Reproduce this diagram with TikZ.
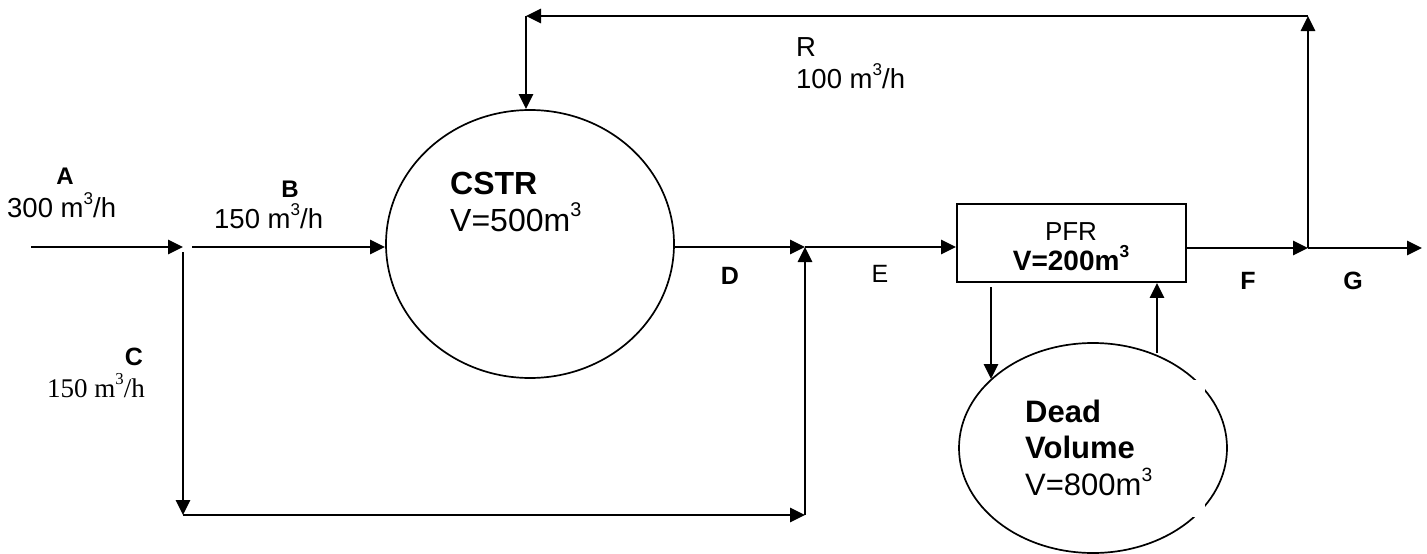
\documentclass[tikz,border=0pt]{standalone}
\usepackage{fontspec}
\usepackage{graphicx}
\setmainfont{Liberation Sans}
\newfontfamily\timesf{Liberation Serif}
\usetikzlibrary{arrows.meta,shapes.geometric}
\newcommand{\cubed}{\raisebox{0.45em}{\scalebox{0.62}{3}}}
\begin{document}
\begin{tikzpicture}[x=1pt,y=-1pt,
  flow/.style={line width=2.8pt,-{Triangle[length=15pt,width=14pt]}},
  vessel/.style={draw,line width=1.7pt,ellipse,inner sep=0pt},
  lbl/.style={font=\fontsize{27.5}{30}\selectfont,inner sep=0pt,anchor=base west},
  tag/.style={font=\fontsize{25}{28}\selectfont\bfseries,inner sep=0pt,anchor=base},
  big/.style={font=\fontsize{32}{36}\selectfont,inner sep=0pt,anchor=base west},
  dvtxt/.style={font=\fontsize{31}{36}\selectfont,inner sep=0pt,anchor=base west}]
\useasboundingbox (0,0) rectangle (1427,554);
% vessels
\node[vessel,minimum width=288pt,minimum height=268pt] (cstr) at (530,244) {};
\node[draw,line width=1.7pt,minimum width=229pt,minimum height=78pt,inner sep=0pt] (pfr) at (1071.5,243) {};
\node[vessel,minimum width=268pt,minimum height=210pt] (dv) at (1093,448) {};
\fill[white] (1010,380) rectangle (1205,517);
% coordinates
\coordinate (a0) at (31,247);
\coordinate (s1) at (183,247);
\coordinate (b0) at (192,247);
\coordinate (c0) at (183,252);
\coordinate (c1) at (183,515);
\coordinate (m0) at (805,515);
\coordinate (mix) at (805,247);
\coordinate (s2) at (1308,248);
\coordinate (g1) at (1422,248);
\coordinate (r0) at (1308,16);
\coordinate (r1) at (526,16);
\coordinate (p1) at (991,287);
\coordinate (p2) at (991,379);
\coordinate (q1) at (1157,353);
% connectors
\draw[flow] (a0) -- (s1);
\draw[flow] (b0) -- (b0 -| cstr.west);
\draw[flow] (c0) -- (c1);
\draw[flow] (c1) -- (m0);
\draw[flow] (m0) -- (mix);
\draw[flow] (cstr.east |- mix) -- (mix);
\draw[flow] (mix) -- (mix -| pfr.west);
\draw[flow] (pfr.east |- s2) -- (s2);
\draw[flow] (s2) -- (g1);
\draw[flow] (s2) -- (r0);
\draw[flow] (r0) -- (r1);
\draw[flow] (r1) -- (r1 |- cstr.north);
\draw[flow] (p1) -- (p2);
\draw[flow] (q1) -- (q1 |- pfr.south);
% labels
\node[tag,font=\fontsize{24}{28}\selectfont\bfseries] (tA) at (65,184) {A};
\node[lbl] (fA) at (7,217) {300 m\cubed/h};
\node[tag,font=\fontsize{24}{28}\selectfont\bfseries] (tB) at (290,197) {B};
\node[lbl] (fB) at (214,228) {150 m\cubed/h};
\node[tag] (tC) at (134,365) {C};
\node[lbl,font=\fontsize{27}{30}\selectfont\timesf] (fC) at (47,397) {150 m\cubed/h};
\node[big,font=\fontsize{32}{36}\selectfont\bfseries] (tcstr) at (450,194) {CSTR};
\node[big] (vcstr) at (450,231) {V=500m\cubed};
\node[tag] (tD) at (730,284) {D};
\node[tag,font=\fontsize{25}{28}\selectfont] (tE) at (880,282) {E};
\node[tag,font=\fontsize{26}{28}\selectfont] (tpfr) at (1071,240) {PFR};
\node[tag,font=\fontsize{28}{30}\selectfont\bfseries] (vpfr) at (1071,270) {V=200m\cubed};
\node[tag] (tF) at (1248,289) {F};
\node[tag] (tG) at (1353,289) {G};
\node[lbl] (tR) at (796,56) {R};
\node[lbl] (fR) at (796,88) {100 m\cubed/h};
\node[dvtxt,font=\fontsize{31}{36}\selectfont\bfseries] (tdv1) at (1025,422) {Dead};
\node[dvtxt,font=\fontsize{31}{36}\selectfont\bfseries] (tdv2) at (1025,458) {Volume};
\node[dvtxt] (vdv) at (1025,495) {V=800m\cubed};
\end{tikzpicture}
\end{document}
